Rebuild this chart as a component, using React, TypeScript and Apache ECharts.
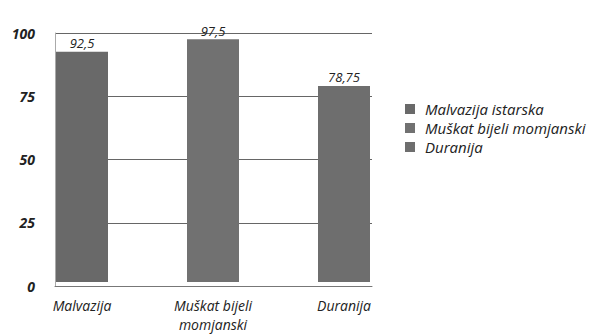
import React, { useEffect, useRef } from "react";
import * as echarts from "echarts";

const categories = ["Malvazija", "Muškat bijeli\nmomjanski", "Duranija"];
const seriesNames = ["Malvazija istarska", "Muškat bijeli momjanski", "Duranija"];
const values = [92.5, 97.5, 78.75];
const seriesColors = ["#696969", "#717171", "#6e6e6e"];
const yMin = 0;
const yMax = 100;
const yInterval = 25;

const FONT = "'Open Sans', 'DejaVu Sans', sans-serif";

export default function App() {
  const ref = useRef<HTMLDivElement>(null);
  useEffect(() => {
    if (!ref.current) return;
    const chart = echarts.init(ref.current, undefined, { renderer: "svg" });
    const series = seriesNames.map((name, i) => ({
      name,
      type: "bar",
      stack: "all",
      xAxisIndex: 0,
      yAxisIndex: 0,
      barWidth: 52,
      itemStyle: { color: seriesColors[i] },
      data: values.map((v, j) => (j === i ? v : null)),
      label: {
        show: true,
        position: "top",
        distance: 2,
        color: "#222",
        fontFamily: FONT,
        fontStyle: "italic",
        fontSize: 13,
        formatter: (p: any) => String(p.value).replace(".", ","),
      },
    }));
    chart.setOption({
      animation: false,
      backgroundColor: "#fff",
      legend: {
        orient: "vertical",
        left: 400,
        top: 95,
        itemWidth: 10,
        itemHeight: 10,
        itemGap: 1,
        icon: "rect",
        data: seriesNames,
        textStyle: {
          fontFamily: FONT,
          fontStyle: "italic",
          fontSize: 15,
          color: "#222",
          lineHeight: 18,
          padding: [0, 0, 0, 5],
        },
      },
      grid: [
        { left: 16.5, right: 183.5, top: 33, bottom: 48 },
        { left: 55, right: 221, top: 33, bottom: 48 },
      ],
      xAxis: [
        {
          type: "category",
          gridIndex: 0,
          data: categories,
          axisLine: { show: false },
          axisTick: { show: false },
          axisLabel: {
            margin: 14,
            color: "#222",
            fontFamily: FONT,
            fontStyle: "italic",
            fontSize: 14,
            lineHeight: 19,
          },
        },
        {
          type: "category",
          gridIndex: 1,
          data: ["a"],
          axisLine: { show: true, lineStyle: { color: "#777", width: 1 } },
          axisTick: { show: false },
          axisLabel: { show: false },
        },
      ],
      yAxis: [
        {
          type: "value",
          gridIndex: 0,
          min: yMin,
          max: yMax,
          interval: yInterval,
          show: false,
          splitLine: { show: false },
        },
        {
          type: "value",
          gridIndex: 1,
          min: yMin,
          max: yMax,
          interval: yInterval,
          axisLine: { show: true, lineStyle: { color: "#aaa", width: 1 } },
          axisTick: { show: false },
          axisLabel: {
            margin: 20,
            color: "#222",
            fontFamily: FONT,
            fontStyle: "italic",
            fontWeight: "bold",
            fontSize: 14,
          },
          splitLine: { show: true, lineStyle: { color: "#666", width: 1 } },
        },
      ],
      series,
    });
    return () => chart.dispose();
  }, []);
  return (
    <div
      ref={ref}
      style={{ position: "fixed", left: 0, top: 0, width: 593, height: 334 }}
    />
  );
}
